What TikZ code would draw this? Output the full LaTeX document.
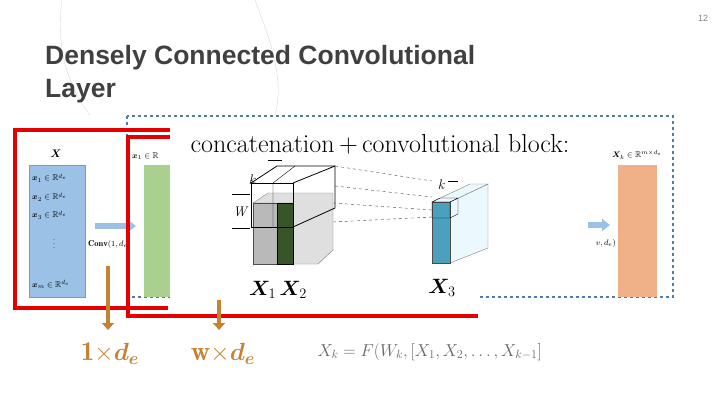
\documentclass[tikz,border=0pt]{standalone}
\usepackage{amsmath,amssymb,bm}
\usepackage{fontspec}
\setsansfont{Liberation Sans}
\usetikzlibrary{arrows.meta}
\begin{document}
\begin{tikzpicture}[x=1pt,y=-1pt,
  redbox/.style={draw=red!90!black,line width=4pt},
  bluearrow/.style={draw=cblue,line width=6pt,-{Triangle[length=8pt,width=12pt]}},
  lbl/.style={inner sep=0pt,font=\fontsize{8.5}{10}\selectfont}]
\useasboundingbox (0,0) rectangle (720,405);
\definecolor{cblue}{RGB}{155,194,230}
\definecolor{cgreen}{RGB}{169,208,142}
\definecolor{corange}{RGB}{240,176,136}
\definecolor{cbrown}{RGB}{196,130,50}
\definecolor{cteal}{RGB}{75,160,190}
\definecolor{cdkgreen}{RGB}{55,85,40}
\definecolor{cdash}{RGB}{80,125,175}
% decorative curves
\draw[gray!30] (62,0) .. controls (55,50) and (70,90) .. (90,115);
\draw[gray!30] (255,0) .. controls (270,40) and (285,80) .. (275,115);
\node[font=\fontsize{9}{10}\selectfont\sffamily,text=gray] (pg) at (703,18) {12};
\node[font=\sffamily\bfseries\fontsize{26.5}{33}\selectfont,text=black!75,align=left,anchor=north west,inner sep=0pt] (title) at (45,45) {Densely Connected Convolutional\\Layer};
% dashed frame
\draw[dashed,draw=cdash,line width=1.2pt] (127,116) rectangle (673,297);
% columns
\node[fill=cblue,draw=cblue!80!black,minimum width=56pt,minimum height=132pt,inner sep=0pt,anchor=north west] (colx) at (29,165) {};
\node[fill=cgreen,minimum width=28pt,minimum height=132pt,inner sep=0pt,anchor=north west] (colg) at (144,165) {};
\node[fill=corange,minimum width=39pt,minimum height=132pt,inner sep=0pt,anchor=north west] (colo) at (618,165) {};
\node[lbl,font=\fontsize{11}{12}\selectfont] (xl) at (56,154) {$\bm{X}$};
\node[lbl,anchor=west] (x1l) at (132,156) {$\bm{x}_1\in\mathbb{R}$};
\node[lbl] (xkl) at (637,155) {$\bm{X}_k\in\mathbb{R}^{m\times d_e}$};
\node[lbl,anchor=west] (e1) at (32,178) {$\bm{x}_1\in\mathbb{R}^{d_e}$};
\node[lbl,anchor=west] (e2) at (32,197) {$\bm{x}_2\in\mathbb{R}^{d_e}$};
\node[lbl,anchor=west] (e3) at (32,215) {$\bm{x}_3\in\mathbb{R}^{d_e}$};
\node[lbl] (dots) at (54,241) {$\vdots$};
\node[lbl,anchor=west] (em) at (32,284) {$\bm{x}_m\in\mathbb{R}^{d_e}$};
\coordinate (a1s) at (95,226); \coordinate (a1e) at (136,226);
\draw[bluearrow] (a1s) -- (a1e);
\coordinate (a2s) at (588,225); \coordinate (a2e) at (610,225);
\draw[bluearrow] (a2s) -- (a2e);
\node[lbl,anchor=west] (conv) at (88,244) {$\mathbf{Conv}(1,d_e)$};
% red boxes
\draw[redbox] (168,308) -- (15,308) -- (15,130) -- (300,130);
\draw[redbox] (128,318) -- (128,137) -- (300,137);
\draw[redbox] (128,316) -- (478,316);
% white panel
\node[fill=white,minimum width=308pt,minimum height=176pt,inner sep=0pt,anchor=north west] (panel) at (170,126) {};
\node[font=\fontsize{26}{28}\selectfont] (ptitle) at (380,144) {concatenation\,+\,convolutional block:};
\node[lbl,anchor=east] (vde) at (616,243) {$v,d_e)$};
% block X1 X2
\filldraw[fill=gray!25,draw=gray] (253,203) -- (268,193) -- (333,193) -- (333,250) -- (318,264) -- (293,264) -- (293,203) -- cycle;
\filldraw[fill=gray!55,draw=gray!60!black] (253,203) rectangle (277,264);
\filldraw[fill=cdkgreen,draw=black] (277,203) rectangle (293,264);
\draw[thick] (251,183) rectangle (293,227);
\draw[thick] (251,183) -- (277,166) -- (335,166) -- (335,208) -- (293,227);
\draw[thick] (293,183) -- (335,166);
\draw (273,183) -- (295,166) (273,183) -- (273,227);
\draw (232,194) -- (250,194) (232,228) -- (250,228);
\draw (268,160) -- (282,160);
\node[lbl,font=\fontsize{14}{14}\selectfont\itshape] (kl) at (252,180) {k};
\node[lbl,font=\fontsize{14}{14}\selectfont\itshape] (wl) at (240,212) {W};
% dashed projection
\draw[dashed,gray!60!black] (335,166) -- (432,181);
\draw[dashed,gray!60!black] (335,186) -- (432,197);
\draw[dashed,gray!60!black] (333,203) -- (432,210);
\draw[dashed,gray!60!black] (333,222) -- (432,217);
% block X3
\filldraw[fill=cyan!8,draw=gray] (450,202) -- (488,184) -- (488,248) -- (450,263) -- cycle;
\filldraw[fill=cyan!8,draw=gray] (432,202) -- (470,184) -- (488,184) -- (450,202) -- cycle;
\filldraw[fill=cteal,draw=black!70] (432,202) rectangle (450,263);
\draw (432,202) rectangle (450,218) (450,218) -- (458,214) -- (458,198) -- (450,202) (432,202) -- (440,198) -- (458,198);
\draw (448,181) -- (458,181);
\node[lbl,font=\fontsize{14}{14}\selectfont\itshape] (k3) at (441,185) {k};
\node[font=\fontsize{21}{22}\selectfont] (x12) at (278,290) {$\bm{X}_1\,\bm{X}_2$};
\node[font=\fontsize{21}{22}\selectfont] (x3) at (442,288) {$\bm{X}_3$};
% brown arrows
\coordinate (b1s) at (108,266); \coordinate (b1e) at (108,330);
\coordinate (b2s) at (219,300); \coordinate (b2e) at (219,330);
\draw[draw=cbrown,line width=4pt,-{Triangle[length=7pt,width=12pt]}] (b1s) -- (b1e);
\draw[draw=cbrown,line width=4pt,-{Triangle[length=7pt,width=12pt]}] (b2s) -- (b2e);
\node[text=cbrown,font=\fontsize{27}{28}\selectfont] (l1) at (110,354) {$\mathbf{1}{\times}\bm{d_e}$};
\node[text=cbrown,font=\fontsize{27}{28}\selectfont] (l2) at (223,354) {$\mathbf{w}{\times}\bm{d_e}$};
\node[text=black!60,font=\fontsize{17}{18}\selectfont,anchor=west] (fm) at (314,352) {$X_k=F(W_k,[X_1,X_2,\dots,X_{k-1}]$};
\end{tikzpicture}
\end{document}
